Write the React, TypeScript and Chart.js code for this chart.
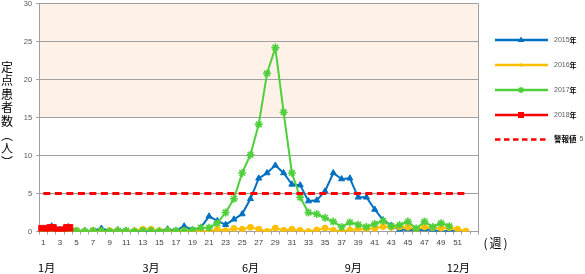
import React, { useEffect, useRef } from "react";
import { Chart, registerables } from "chart.js";

Chart.register(...registerables);

const weeks = [
  "1","2","3","4","5","6","7","8","9","10","11","12","13","14","15","16","17","18","19","20",
  "21","22","23","24","25","26","27","28","29","30","31","32","33","34","35","36","37","38","39","40",
  "41","42","43","44","45","46","47","48","49","50","51","52","53",
];

const y2015 = [
  0.2, 0.7, 0.2, 0.6, 0.1, 0.1, 0.1, 0.4, 0.1, 0.2,
  0.1, 0.1, 0.0, 0.1, 0.1, 0.3, 0.1, 0.7, 0.2, 0.5,
  2.0, 1.4, 0.9, 1.6, 2.3, 4.3, 7.0, 7.7, 8.7, 7.7,
  6.2, 6.1, 4.0, 4.1, 5.3, 7.7, 6.9, 7.0, 4.5, 4.5,
  2.9, 1.5, 0.8, 0.2, 0.3, 0.1, 0.3, 0.2, 0.0, 0.1,
  0.1,
];

const y2016 = [
  0.1, 0.1, 0.0, 0.1, 0.1, 0.0, 0.1, 0.0, 0.1, 0.1,
  0.0, 0.1, 0.3, 0.3, 0.1, 0.1, 0.0, 0.1, 0.0, 0.1,
  0.0, 0.3, 0.1, 0.4, 0.3, 0.55, 0.3, 0.0, 0.45, 0.15,
  0.3, 0.15, 0.0, 0.2, 0.45, 0.15, 0.0, 0.2, 0.3, 0.35,
  0.4, 0.65, 0.55, 0.6, 0.55, 0.3, 0.6, 0.5, 0.4, 0.5,
  0.3, 0.05,
];

const y2017 = [
  0.1, 0.1, 0.1, 0.1, 0.1, 0.0, 0.1, 0.1, 0.0, 0.1,
  0.1, 0.0, 0.1, 0.1, 0.0, 0.1, 0.1, 0.1, 0.2, 0.5,
  0.5, 1.1, 2.5, 4.3, 7.7, 10.1, 14.1, 20.8, 24.2, 15.7,
  7.7, 4.5, 2.5, 2.3, 1.8, 1.3, 0.6, 1.2, 0.9, 0.6,
  1.0, 1.4, 0.7, 0.85, 1.3, 0.4, 1.3, 0.6, 1.1, 0.7,
];

const y2018 = [0.2, 0.3, 0.0, 0.3];

const alertLevel = [
  5, 5, 5, 5, 5, 5, 5, 5, 5, 5, 5, 5, 5, 5, 5, 5, 5, 5, 5, 5, 5, 5, 5, 5, 5, 5,
  5, 5, 5, 5, 5, 5, 5, 5, 5, 5, 5, 5, 5, 5, 5, 5, 5, 5, 5, 5, 5, 5, 5, 5, 5, 5,
];

const seriesNames = ["2015年", "2016年", "2017年", "2018年", "警報値"];
const alertValueText = "5";
const months = ["1月", "3月", "6月", "9月", "12月"];
const monthAtWeek = [1.4, 14, 26, 38.4, 51.1];
const bandRange = [15, 30];
const yTitleChars = ["定", "点", "患", "者", "数", "︵", "人", "︶"];
const xUnit = ["(", "週", ")"];

const BLUE = "#0070C0";
const YELLOW = "#FFC000";
const GREEN = "#4FCF3C";
const RED = "#FF0000";
const GRID = "#A0A0A0";
const CJK = "'Noto Sans CJK JP', 'Noto Sans', sans-serif";
const NUM = "'Liberation Sans', Arial, sans-serif";

function drawMarker(ctx: CanvasRenderingContext2D, style: string, x: number, y: number, r: number, color: string) {
  ctx.save();
  ctx.fillStyle = color;
  ctx.strokeStyle = color;
  ctx.lineWidth = 1.5;
  ctx.setLineDash([]);
  ctx.beginPath();
  if (style === "triangle") {
    ctx.moveTo(x, y - r);
    ctx.lineTo(x + r * 0.95, y + r * 0.6);
    ctx.lineTo(x - r * 0.95, y + r * 0.6);
    ctx.closePath();
    ctx.fill();
  } else if (style === "circle") {
    ctx.arc(x, y, r, 0, Math.PI * 2);
    ctx.fill();
  } else if (style === "star") {
    const d = r * 0.75;
    ctx.moveTo(x - d, y - d); ctx.lineTo(x + d, y + d);
    ctx.moveTo(x + d, y - d); ctx.lineTo(x - d, y + d);
    ctx.moveTo(x, y - r); ctx.lineTo(x, y + r);
    ctx.stroke();
  } else if (style === "rect") {
    ctx.fillRect(x - r, y - r, r * 2, r * 2);
  }
  ctx.restore();
}

const decorPlugin = {
  id: "decor",
  beforeDraw(chart: any) {
    const { ctx, chartArea, scales } = chart;
    const y = scales.y;
    const top = y.getPixelForValue(bandRange[1]);
    const bottom = y.getPixelForValue(bandRange[0]);
    ctx.save();
    ctx.fillStyle = "#FDF1E8";
    ctx.fillRect(chartArea.left, top, chartArea.right - chartArea.left, bottom - top);
    ctx.restore();
  },
  afterDraw(chart: any) {
    const { ctx, chartArea, scales } = chart;
    const x = scales.x;
    ctx.save();
    ctx.strokeStyle = GRID;
    ctx.lineWidth = 1;
    ctx.beginPath();
    ctx.moveTo(Math.round(chartArea.right) + 0.5, chartArea.top);
    ctx.lineTo(Math.round(chartArea.right) + 0.5, chartArea.bottom + 3);
    ctx.stroke();

    ctx.fillStyle = "#000";
    ctx.font = `12px ${CJK}`;
    ctx.textAlign = "center";
    ctx.textBaseline = "middle";
    yTitleChars.forEach((c, i) => {
      ctx.fillText(c, 7, 67 + i * 13.6);
    });

    ctx.font = `11px ${CJK}`;
    months.forEach((m, i) => {
      const px = x.getPixelForValue(monthAtWeek[i] - 1);
      ctx.fillText(m, px, 268);
    });

    ctx.font = `12px ${CJK}`;
    ctx.fillText(xUnit[0], 485.5, 243);
    ctx.fillText(xUnit[1], 495.5, 243);
    ctx.fillText(xUnit[2], 505.5, 243);

    const legendItems = [
      { color: BLUE, marker: "triangle", r: 3.5, dash: false },
      { color: YELLOW, marker: "circle", r: 1.8, dash: false },
      { color: GREEN, marker: "star", r: 3, dash: false },
      { color: RED, marker: "rect", r: 3, dash: false },
      { color: RED, marker: "", r: 0, dash: true },
    ];
    const ys = [40, 65, 90, 115, 139.5];
    legendItems.forEach((it, i) => {
      const ly = ys[i];
      ctx.save();
      ctx.strokeStyle = it.color;
      ctx.lineWidth = 2.5;
      ctx.setLineDash(it.dash ? [5.5, 3.5] : []);
      ctx.beginPath();
      ctx.moveTo(495, ly);
      ctx.lineTo(548, ly);
      ctx.stroke();
      ctx.restore();
      if (it.marker) drawMarker(ctx, it.marker, 521, ly, it.r, it.color);
      ctx.textAlign = "left";
      ctx.textBaseline = "middle";
      const name = seriesNames[i];
      if (i < 4) {
        const digits = name.slice(0, 4);
        ctx.font = `7px ${NUM}`;
        ctx.fillStyle = "#595959";
        ctx.fillText(digits, 554, ly);
        const w = ctx.measureText(digits).width;
        ctx.font = `bold 7px ${CJK}`;
        ctx.fillStyle = "#000";
        ctx.fillText(name.slice(4), 554 + w, ly);
      } else {
        ctx.font = `bold 7.5px ${CJK}`;
        ctx.fillStyle = "#000";
        ctx.fillText(name, 554, ly);
        const w = ctx.measureText(name).width;
        ctx.font = `7px ${NUM}`;
        ctx.fillStyle = "#595959";
        ctx.fillText(alertValueText, 554 + w + 3, ly);
      }
    });
    ctx.restore();
  },
};

export default function App() {
  const ref = useRef<HTMLCanvasElement | null>(null);
  useEffect(() => {
    if (!ref.current) return;
    const chart = new Chart(ref.current, {
      type: "line",
      data: {
        labels: weeks,
        datasets: [
          {
            label: seriesNames[0], data: y2015, borderColor: BLUE, backgroundColor: BLUE,
            borderWidth: 2, pointStyle: "triangle", pointRadius: 3.5, pointBorderWidth: 1, order: 5,
          },
          {
            label: seriesNames[1], data: y2016, borderColor: YELLOW, backgroundColor: YELLOW,
            borderWidth: 2, pointStyle: "circle", pointRadius: 3, pointBorderWidth: 1, order: 4,
          },
          {
            label: seriesNames[2], data: y2017, borderColor: GREEN, backgroundColor: GREEN,
            borderWidth: 2, pointStyle: "star", pointRadius: 4, pointBorderWidth: 1.6, order: 3,
          },
          {
            label: seriesNames[3], data: y2018, borderColor: RED, backgroundColor: RED,
            borderWidth: 3, pointStyle: "rect", pointRadius: 6.5, pointBorderWidth: 1, order: 2,
          },
          {
            label: seriesNames[4], data: alertLevel, borderColor: RED, backgroundColor: RED,
            borderWidth: 3, borderDash: [7, 4.5], pointRadius: 0, order: 1,
          },
        ],
      },
      options: {
        responsive: false,
        animation: false,
        events: [],
        elements: { line: { tension: 0 } },
        layout: { autoPadding: false, padding: { left: 0, top: 3.5, right: 106.7, bottom: 0 } },
        plugins: { legend: { display: false }, tooltip: { enabled: false }, title: { display: false } },
        scales: {
          x: {
            type: "category",
            offset: true,
            grid: { display: true, drawOnChartArea: false, offset: true, color: GRID, tickLength: 3 },
            border: { display: true, color: GRID },
            ticks: {
              autoSkip: false,
              maxRotation: 0,
              minRotation: 0,
              padding: 3,
              color: "#404040",
              font: { family: NUM, size: 8 },
              callback: (_v: any, i: number) => (i % 2 === 0 && i < 52 ? weeks[i] : ""),
            },
            afterFit: (s: any) => { s.height = 42.5; s.paddingLeft = 0; s.paddingRight = 0; },
          },
          y: {
            min: 0,
            max: 30,
            ticks: { stepSize: 5, padding: 4, color: "#595959", font: { family: NUM, size: 7.5 } },
            grid: { color: GRID, tickLength: 3 },
            border: { display: true, color: GRID },
            afterFit: (s: any) => { s.width = 39.2; s.paddingTop = 0; s.paddingBottom = 0; },
          },
        },
      },
      plugins: [decorPlugin],
    });
    return () => chart.destroy();
  }, []);
  return (
    <div style={{ position: "fixed", left: 0, top: 0, width: 585, height: 274, background: "#fff" }}>
      <canvas ref={ref} width={585} height={274} style={{ display: "block" }} />
    </div>
  );
}
